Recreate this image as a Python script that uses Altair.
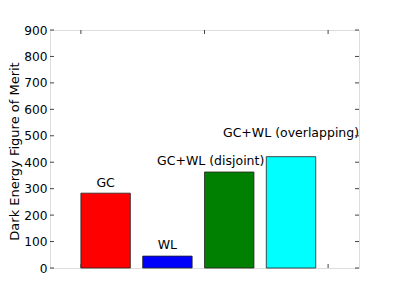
import altair as alt
import pandas as pd

categories = ["GC", "WL", "GC+WL (disjoint)", "GC+WL (overlapping)"]
values = [283, 45, 363, 421]
bar_left = [0.5, 1.5, 2.5, 3.5]
bar_width = 0.8
colors = ["#ff0000", "#0000ff", "#008000", "#00ffff"]
label_x = [0.9, 1.9, 2.6, 3.9]
label_y = [305, 70, 390, 494]
y_ticks = [0, 100, 200, 300, 400, 500, 600, 700, 800, 900]
x_ticks = [0.5, 2.5, 4.5]

W, H = 309, 238
FS = 12.5

df = pd.DataFrame({
    "cat": categories,
    "value": values,
    "base": [0] * len(values),
    "left": bar_left,
    "right": [b + bar_width for b in bar_left],
    "color": colors,
    "lx": label_x,
    "ly": label_y,
})
ydf = pd.DataFrame({"t": y_ticks})
xdf = pd.DataFrame({"t": x_ticks})

xs = alt.Scale(domain=[0, 5], nice=False, zero=False)
ys = alt.Scale(domain=[0, 900], nice=False)
yaxis = alt.Axis(
    values=y_ticks, ticks=False, labelPadding=3, domain=False, grid=False,
    title="Dark Energy Figure of Merit", titleFontSize=13, titleFontWeight="normal",
    titleX=-35.5, titleY=121, titleBaseline="middle", titleAlign="center", titleAngle=270,
    labelFontSize=12.2, labelColor="black", titleColor="black")

bars = alt.Chart(df).mark_bar(stroke="#222", strokeWidth=0.8).encode(
    x=alt.X("left:Q", scale=xs, axis=None),
    x2="right:Q",
    y=alt.Y("value:Q", scale=ys, axis=yaxis),
    y2="base:Q",
    color=alt.Color("color:N", scale=None),
)

labels = alt.Chart(df).mark_text(baseline="alphabetic", fontSize=FS, color="black").encode(
    x=alt.X("lx:Q", scale=xs, axis=None), y=alt.Y("ly:Q", scale=ys, axis=yaxis), text="cat:N"
)

tick_color = "#444"
yl = alt.Chart(ydf).mark_rule(color=tick_color).encode(
    y=alt.Y("t:Q", scale=ys, axis=yaxis), x=alt.value(0), x2=alt.value(4))
yr = alt.Chart(ydf).mark_rule(color=tick_color).encode(
    y=alt.Y("t:Q", scale=ys, axis=yaxis), x=alt.value(W - 4), x2=alt.value(W))
xb = alt.Chart(xdf).mark_rule(color=tick_color).encode(
    x=alt.X("t:Q", scale=xs, axis=None), y=alt.value(H - 4), y2=alt.value(H))
xt = alt.Chart(xdf).mark_rule(color=tick_color).encode(
    x=alt.X("t:Q", scale=xs, axis=None), y=alt.value(0), y2=alt.value(4))

chart = alt.layer(bars, labels, yl, yr, xb, xt).properties(
    width=W, height=H,
    autosize=alt.AutoSizeParams(type="none"),
    padding={"left": 42, "top": 22, "right": 10, "bottom": 10},
).configure_view(stroke="#444", strokeWidth=1).configure(font="DejaVu Sans")

chart.save("out.html", embed_options={"renderer": "svg", "actions": False})
